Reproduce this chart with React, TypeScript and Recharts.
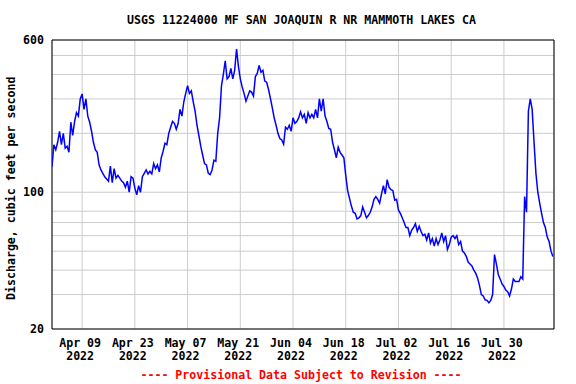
import React from 'react';
import { LineChart, Line, XAxis, YAxis, CartesianGrid, ReferenceArea } from 'recharts';

const FONT = '"DejaVu Sans Mono", "Liberation Mono", monospace';

// discharge in cfs, two readings a day starting Apr 01 2022
const aprilFlow = [
  135, 175, 165, 180, 205, 175, 200, 168, 172, 160,
  228, 195, 230, 255, 245, 300, 318, 265, 300, 245,
  228, 205, 180, 165, 160, 138, 130, 125, 120, 117,
  114, 136, 112, 132, 118, 122, 118, 114, 112, 106,
  114, 100, 120, 118, 105, 97, 108, 100, 120, 125,
  130, 124, 128, 124, 140, 132, 138, 127, 150, 162,
];
const mayFlow = [
  178, 175, 200, 215, 230, 225, 210, 225, 265, 245,
  290, 320, 350, 320, 330, 290, 260, 220, 195, 172,
  155, 140, 138, 125, 123, 130, 146, 144, 200, 240,
  350, 400, 470, 380, 390, 430, 380, 420, 540, 440,
  380, 345, 320, 292, 310, 330, 325, 310, 390, 405,
  445, 410, 420, 370, 365, 335, 302, 270, 240, 220,
  200, 188,
];
const juneFlow = [
  185, 176, 215, 210, 220, 205, 240, 225, 230, 240,
  258, 240, 250, 225, 255, 240, 250, 240, 265, 240,
  300, 260, 300, 245, 230, 212, 210, 180, 165, 150,
  170, 160, 155, 150, 122, 102, 93, 85, 79, 78,
  73, 74, 76, 84, 79, 74, 76, 79, 84, 92,
  95, 92, 88, 98, 108, 98, 116, 106, 103, 102,
];
const julyFlow = [
  91, 92, 81, 78, 74, 70, 66, 66, 60, 64,
  66, 69, 63, 67, 63, 60, 61, 57, 62, 55,
  58, 53, 58, 54, 57, 62, 56, 60, 51, 54,
  59, 60, 58, 60, 54, 56, 50, 49, 47, 44,
  43, 42, 40, 38.6, 36.5, 33.4, 30, 29.5, 28.2, 28,
  27.2, 28, 30, 48, 43, 38, 36, 34, 33, 31.6,
  31, 29.5,
];
const augustFlow = [
  32, 36, 35, 35, 35, 37, 36, 95, 79, 260,
  300, 265, 180, 125, 100, 88, 78, 70, 66, 59,
  56, 50, 47,
];

const dateTicks = [8, 22, 36, 50, 64, 78, 92, 106, 120];
const dateLabels = ['Apr 09', 'Apr 23', 'May 07', 'May 21', 'Jun 04', 'Jun 18', 'Jul 02', 'Jul 16', 'Jul 30'];
const flowTicks = [20, 30, 40, 50, 60, 70, 80, 90, 100, 200, 300, 400, 500, 600];
const labeledFlows = [20, 100, 600];

const data = [...aprilFlow, ...mayFlow, ...juneFlow, ...julyFlow, ...augustFlow].map((flow, i) => ({
  day: i * 0.5,
  flow,
}));

const LAST_DAY = 133.3;

const textStyle = { fontFamily: FONT, fontSize: 11.6, fontWeight: 'bold' as const };

function DateTick({ x, y, payload }: any) {
  const i = dateTicks.indexOf(payload.value);
  return (
    <g>
      <text x={x - 2} y={y + 14.3} dy="0.355em" textAnchor="middle" fill="#000" style={textStyle}>
        {dateLabels[i]}
      </text>
      <text x={x - 2} y={y + 26.8} dy="0.355em" textAnchor="middle" fill="#000" style={textStyle}>
        2022
      </text>
    </g>
  );
}

export default function App() {
  return (
    <div style={{ position: 'absolute', left: 0, top: 0, width: 576, height: 384, background: '#fff' }}>
      <LineChart width={576} height={384} data={data} margin={{ top: 40, right: 22, bottom: 0, left: 0 }}>
        <CartesianGrid stroke="#cccccc" />
        <XAxis
          dataKey="day"
          type="number"
          domain={[0, LAST_DAY]}
          ticks={dateTicks}
          height={55}
          tickSize={0}
          tickMargin={0}
          axisLine={false}
          allowDataOverflow
          tick={<DateTick />}
        />
        <YAxis
          type="number"
          scale="log"
          domain={[20, 600]}
          ticks={flowTicks}
          width={52}
          tickSize={0}
          tickMargin={8}
          axisLine={false}
          allowDataOverflow
          tickFormatter={(v: number) => (labeledFlows.includes(v) ? String(v) : '')}
          tick={{ ...textStyle, fill: '#000' }}
        />
        <Line
          type="linear"
          dataKey="flow"
          stroke="#0000ff"
          strokeWidth={1.5}
          dot={false}
          isAnimationActive={false}
        />
        <ReferenceArea x1={0} x2={LAST_DAY} y1={20} y2={600} fill="none" stroke="#000" strokeWidth={1} ifOverflow="visible" />
      </LineChart>
      <svg width={576} height={384} style={{ position: 'absolute', left: 0, top: 0, pointerEvents: 'none' }}>
        <text x={301.5} y={20} dy="0.355em" textAnchor="middle" fill="#000" style={textStyle}>
          USGS 11224000 MF SAN JOAQUIN R NR MAMMOTH LAKES CA
        </text>
        <text
          x={10.7}
          y={188.3}
          dy="0.355em"
          textAnchor="middle"
          fill="#000"
          transform="rotate(-90 10.7 188.3)"
          style={textStyle}
        >
          Discharge, cubic feet per second
        </text>
        <text x={301} y={375} dy="0.355em" textAnchor="middle" fill="#ff0000" style={textStyle}>
          ---- Provisional Data Subject to Revision ----
        </text>
      </svg>
    </div>
  );
}
